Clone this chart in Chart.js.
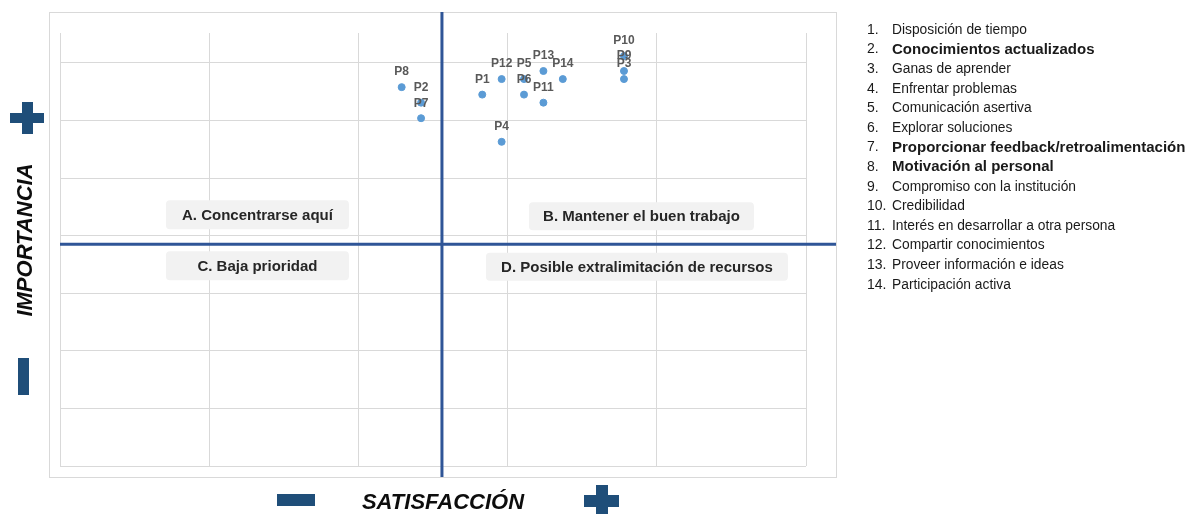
<!DOCTYPE html>
<html lang="es">
<head>
<meta charset="utf-8">
<title>Importancia vs Satisfacción</title>
<script src="https://cdn.jsdelivr.net/npm/chart.js@4.4.1/dist/chart.umd.min.js"></script>
<style>
    html, body { margin: 0; padding: 0; background: #fff; }
    #wrap { width: 1191px; height: 514px; }
</style>
</head>
<body>
<div id="wrap"><canvas id="matrizChart" width="1191" height="514"></canvas></div>
<script>
// Datos
const puntos = ['P1', 'P2', 'P3', 'P4', 'P5', 'P6', 'P7', 'P8', 'P9', 'P10', 'P11', 'P12', 'P13', 'P14'];
const satisfaccion = [2.83, 2.42, 3.78, 2.96, 3.11, 3.11, 2.42, 2.29, 3.78, 3.78, 3.24, 2.96, 3.24, 3.37];
const importancia = [6.45, 6.31, 6.72, 5.63, 6.72, 6.45, 6.04, 6.58, 6.86, 7.12, 6.31, 6.72, 6.86, 6.72];

const items = [
    'Disposición de tiempo',
    'Conocimientos actualizados',
    'Ganas de aprender',
    'Enfrentar problemas',
    'Comunicación asertiva',
    'Explorar soluciones',
    'Proporcionar feedback/retroalimentación',
    'Motivación al personal',
    'Compromiso con la institución',
    'Credibilidad',
    'Interés en desarrollar a otra persona',
    'Compartir conocimientos',
    'Proveer información e ideas',
    'Participación activa'
];
const itemsNegrita = [2, 7, 8];

const cuadrantes = ['A. Concentrarse aquí', 'B. Mantener el buen trabajo', 'C. Baja prioridad', 'D. Posible extralimitación de recursos'];

// Ejes (sin etiquetas visibles)
const rangoX = [0, 5];
const rangoY = [0, 7.52];
const corteSatisfaccion = 2.56;
const corteImportancia = 3.85;

const azulLinea = '#2f5597';
const azulSigno = '#1f4e79';

// Cajas de los cuadrantes: desplazamiento respecto al cruce de las líneas
const cajas = [
    { dx: -184.5, dy: -29.5, w: 183, h: 29 },
    { dx: 199.5, dy: -28, w: 225, h: 28 },
    { dx: -184.5, dy: 21.5, w: 183, h: 29 },
    { dx: 195, dy: 22.5, w: 302, h: 28 }
];

const matrizPlugin = {
    id: 'matriz',
    beforeDraw(chart) {
        const { ctx, chartArea: a } = chart;
        ctx.save();
        ctx.strokeStyle = '#d9d9d9';
        ctx.lineWidth = 1;
        ctx.strokeRect(a.left - 10.5, a.top - 20.5, a.right - a.left + 41, a.bottom - a.top + 32);
        ctx.restore();
    },
    beforeDatasetsDraw(chart) {
        const { ctx, chartArea: a, scales } = chart;
        const xs = scales.x.getPixelForValue(corteSatisfaccion);
        const ys = scales.y.getPixelForValue(corteImportancia);
        ctx.save();
        ctx.strokeStyle = azulLinea;
        ctx.lineWidth = 3;
        ctx.beginPath();
        ctx.moveTo(xs, a.top - 21);
        ctx.lineTo(xs, a.bottom + 11);
        ctx.moveTo(a.left, ys);
        ctx.lineTo(a.right + 30, ys);
        ctx.stroke();

        // cajas de texto
        ctx.font = 'bold 15px "Liberation Sans", Arial, sans-serif';
        ctx.textAlign = 'center';
        ctx.textBaseline = 'middle';
        cajas.forEach((c, i) => {
            const cx = xs + c.dx;
            const cy = ys + c.dy;
            ctx.fillStyle = '#f2f2f2';
            ctx.beginPath();
            ctx.roundRect(cx - c.w / 2, cy - c.h / 2, c.w, c.h, 4);
            ctx.fill();
            ctx.fillStyle = '#262626';
            ctx.fillText(cuadrantes[i], cx, cy + 1);
        });
        ctx.restore();
    },
    afterDatasetsDraw(chart) {
        const { ctx } = chart;
        const meta = chart.getDatasetMeta(0);
        ctx.save();
        ctx.font = 'bold 12px "Liberation Sans", Arial, sans-serif';
        ctx.fillStyle = '#595959';
        ctx.textAlign = 'center';
        ctx.textBaseline = 'middle';
        meta.data.forEach((el, i) => {
            ctx.fillText(puntos[i], el.x, el.y - 15);
        });
        ctx.restore();
    },
    afterDraw(chart) {
        const { ctx } = chart;
        ctx.save();

        // títulos de los ejes
        ctx.fillStyle = '#0d0d0d';
        ctx.font = 'italic bold 22px "Liberation Sans", Arial, sans-serif';
        ctx.textAlign = 'center';
        ctx.textBaseline = 'middle';
        ctx.fillText('SATISFACCIÓN', 443, 503);
        ctx.translate(26, 240);
        ctx.rotate(-Math.PI / 2);
        ctx.fillText('IMPORTANCIA', 0, 0);
        ctx.setTransform(1, 0, 0, 1, 0, 0);

        // signos + y -
        ctx.fillStyle = azulSigno;
        ctx.fillRect(10, 113, 34, 10);
        ctx.fillRect(22, 102, 11, 32);
        ctx.fillRect(18, 358, 11, 37);
        ctx.fillRect(277, 494, 38, 12);
        ctx.fillRect(584, 495, 35, 12);
        ctx.fillRect(596, 485, 12, 32);

        // lista de ítems
        ctx.textAlign = 'left';
        ctx.textBaseline = 'middle';
        ctx.fillStyle = '#1a1a1a';
        items.forEach((txt, i) => {
            const y = 30 + i * 19.6;
            const negrita = itemsNegrita.includes(i + 1);
            ctx.font = '14px "Liberation Sans", Arial, sans-serif';
            ctx.fillText((i + 1) + '.', 867, y);
            ctx.font = (negrita ? 'bold 15px' : '13.8px') + ' "Liberation Sans", Arial, sans-serif';
            ctx.fillText(txt, 892, y);
        });
        ctx.restore();
    }
};

function initChart() {
    const ctx = document.getElementById('matrizChart');
    new Chart(ctx, {
        type: 'scatter',
        data: {
            datasets: [{
                label: 'Ítems',
                data: puntos.map((p, i) => ({ x: satisfaccion[i], y: importancia[i] })),
                backgroundColor: '#5b9bd5',
                borderColor: '#5b9bd5',
                pointRadius: 3.5,
                pointHoverRadius: 3.5
            }]
        },
        options: {
            responsive: false,
            animation: false,
            layout: {
                padding: { left: 60, top: 33, right: 385, bottom: 48 }
            },
            scales: {
                x: {
                    min: rangoX[0],
                    max: rangoX[1],
                    ticks: { display: false, stepSize: 1 },
                    grid: { color: '#d9d9d9', drawTicks: false },
                    border: { display: false }
                },
                y: {
                    min: rangoY[0],
                    max: rangoY[1],
                    ticks: { display: false, stepSize: 1 },
                    grid: { color: '#d9d9d9', drawTicks: false },
                    border: { display: false },
                    afterBuildTicks: function(scale) {
                        scale.ticks = scale.ticks.filter(t => Number.isInteger(t.value));
                    }
                }
            },
            plugins: {
                legend: { display: false },
                tooltip: { enabled: false }
            }
        },
        plugins: [matrizPlugin]
    });
}

document.addEventListener('DOMContentLoaded', initChart);
</script>
</body>
</html>
